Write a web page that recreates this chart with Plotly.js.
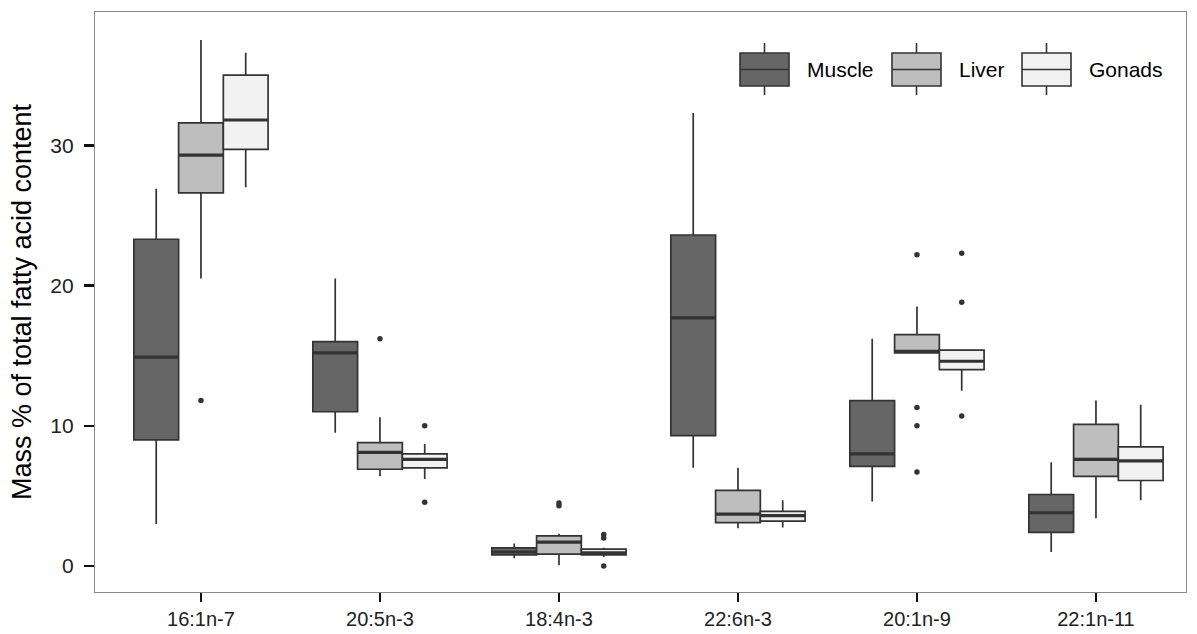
<!DOCTYPE html>
<html>
<head>
<meta charset="utf-8">
<script src="https://cdn.plot.ly/plotly-3.0.1.min.js"></script>
<style>html,body{margin:0;padding:0;background:#fff;}#chart{width:1197px;height:634px;}</style>
</head>
<body>
<div id="chart"></div>
<script>
const categories = ["16:1n-7", "20:5n-3", "18:4n-3", "22:6n-3", "20:1n-9", "22:1n-11"];
const tissues = ["Muscle", "Liver", "Gonads"];

// Muscle
const muscleLower  = [3.0, 9.5, 0.55, 7.0, 4.6, 1.0];
const muscleQ1     = [9.0, 11.0, 0.8, 9.3, 7.1, 2.4];
const muscleMedian = [14.9, 15.2, 1.0, 17.7, 8.0, 3.8];
const muscleQ3     = [23.3, 16.0, 1.3, 23.6, 11.8, 5.1];
const muscleUpper  = [26.9, 20.5, 1.6, 32.3, 16.2, 7.4];
const muscleOutliers = [[], [], [], [], [], []];

// Liver
const liverLower  = [20.5, 6.4, 0.05, 2.7, 15.2, 3.4];
const liverQ1     = [26.6, 6.9, 0.85, 3.1, 15.2, 6.4];
const liverMedian = [29.3, 8.1, 1.7, 3.7, 15.3, 7.6];
const liverQ3     = [31.6, 8.8, 2.15, 5.4, 16.5, 10.1];
const liverUpper  = [37.5, 10.6, 2.3, 7.0, 18.5, 11.8];
const liverOutliers = [[11.8], [16.2], [4.5, 4.3], [], [22.2, 11.3, 10.0, 6.7], []];

// Gonads
const gonadsLower  = [27.0, 6.2, 0.65, 2.75, 12.5, 4.7];
const gonadsQ1     = [29.7, 7.0, 0.8, 3.2, 14.0, 6.1];
const gonadsMedian = [31.8, 7.6, 0.95, 3.6, 14.6, 7.5];
const gonadsQ3     = [35.0, 8.0, 1.2, 3.9, 15.4, 8.5];
const gonadsUpper  = [36.6, 8.7, 1.3, 4.7, 15.45, 11.5];
const gonadsOutliers = [[], [10.0, 4.55], [2.25, 2.0, 0.0], [], [22.3, 18.8, 10.7], []];

const fills = ["#666666", "#bebebe", "#f2f2f2"];
const stats = [
  [muscleLower, muscleQ1, muscleMedian, muscleQ3, muscleUpper, muscleOutliers],
  [liverLower, liverQ1, liverMedian, liverQ3, liverUpper, liverOutliers],
  [gonadsLower, gonadsQ1, gonadsMedian, gonadsQ3, gonadsUpper, gonadsOutliers]
];

const traces = [];
tissues.forEach((name, k) => {
  const [lf, q1, med, q3, uf, out] = stats[k];
  // sample points: whisker ends plus outliers (only outliers beyond fences are drawn)
  const samples = out.map((o, i) => [lf[i], uf[i]].concat(o));
  traces.push({
    type: "box", name: name,
    x: categories, y: samples,
    lowerfence: lf, q1: q1, median: med, q3: q3, upperfence: uf,
    boxpoints: "outliers", jitter: 0, pointpos: 0,
    offsetgroup: name, alignmentgroup: "all",
    fillcolor: fills[k],
    line: {color: "#333333", width: 1.7},
    whiskerwidth: 0,
    marker: {color: "#333333", size: 5.5, line: {width: 0}},
    showlegend: false, hoverinfo: "none"
  });
});
// thick median lines (ggplot style), overlaid on the same offset groups
tissues.forEach((name, k) => {
  const med = stats[k][2];
  traces.push({
    type: "box", name: name + " median",
    x: categories,
    lowerfence: med, q1: med, median: med, q3: med, upperfence: med,
    boxpoints: false,
    offsetgroup: name, alignmentgroup: "all",
    fillcolor: "rgba(0,0,0,0)",
    line: {color: "#333333", width: 3.2},
    whiskerwidth: 0,
    showlegend: false, hoverinfo: "none"
  });
});

// custom legend (keys drawn like ggplot box keys)
const L = 95, R = 1186, T = 12, B = 592;
const px = v => (v - L) / (R - L);
const py = v => (B - v) / (B - T);
const shapes = [];
const annotations = [];
const keyLeft = [740, 892, 1022];
tissues.forEach((name, k) => {
  const x0 = keyLeft[k], x1 = x0 + 49, xm = x0 + 24.5;
  shapes.push({type: "line", xref: "paper", yref: "paper", x0: px(xm), x1: px(xm), y0: py(43), y1: py(95),
               line: {color: "#333333", width: 1.6}});
  shapes.push({type: "rect", xref: "paper", yref: "paper", x0: px(x0), x1: px(x1), y0: py(53), y1: py(86),
               fillcolor: fills[k], line: {color: "#333333", width: 1.6}});
  shapes.push({type: "line", xref: "paper", yref: "paper", x0: px(x0), x1: px(x1), y0: py(69.5), y1: py(69.5),
               line: {color: "#333333", width: 1.6}});
  annotations.push({text: name, xref: "paper", yref: "paper", x: px(x1 + 16), y: py(70),
                    xanchor: "left", yanchor: "middle", showarrow: false,
                    font: {size: 21, color: "#000000"}});
});

const layout = {
  width: 1197, height: 634,
  margin: {l: L, r: 1197 - R, t: T, b: 634 - B},
  paper_bgcolor: "#ffffff", plot_bgcolor: "#ffffff",
  font: {family: "Liberation Sans, Arial, sans-serif", color: "#000000"},
  boxmode: "group", boxgap: 0.25, boxgroupgap: 0,
  showlegend: false,
  shapes: shapes, annotations: annotations,
  xaxis: {
    type: "category", categoryorder: "array", categoryarray: categories,
    range: [-0.592, 5.503],
    showgrid: false, zeroline: false,
    showline: true, linecolor: "#8a8a8a", linewidth: 1.2, mirror: true,
    ticks: "outside", ticklen: 9, tickwidth: 2.5, tickcolor: "#111",
    ticklabelstandoff: 0,
    tickfont: {size: 20, color: "#222"}
  },
  yaxis: {
    range: [-1.85, 39.5],
    tickvals: [0, 10, 20, 30],
    showgrid: false, zeroline: false,
    showline: true, linecolor: "#8a8a8a", linewidth: 1.2, mirror: true,
    ticks: "outside", ticklen: 10, tickwidth: 2.5, tickcolor: "#111",
    ticklabelstandoff: 6,
    tickfont: {size: 21, color: "#222"},
    title: {text: "Mass % of total fatty acid content", font: {size: 27, color: "#000"}, standoff: 10}
  }
};

Plotly.newPlot("chart", traces, layout, {staticPlot: true});
</script>
</body>
</html>
